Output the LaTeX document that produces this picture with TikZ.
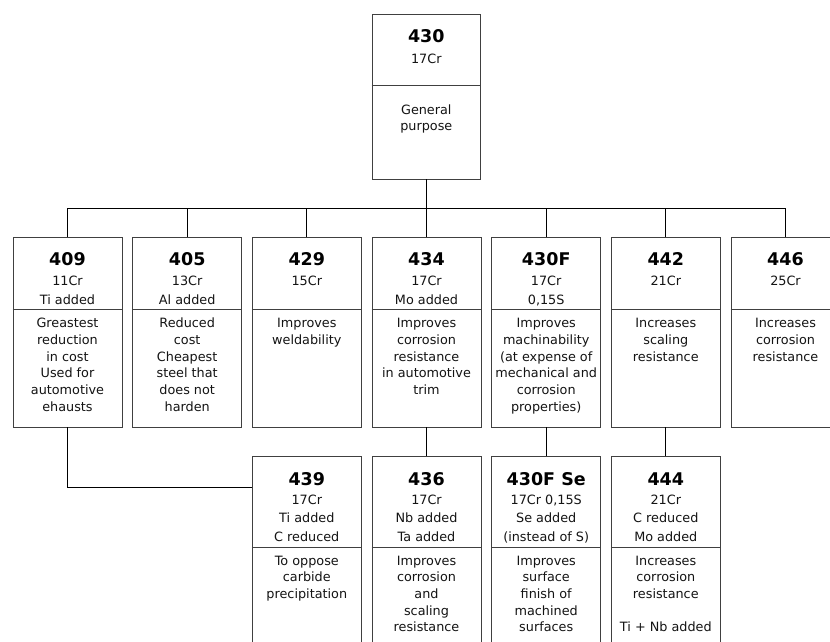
\documentclass[tikz,border=0pt]{standalone}
\usepackage{fontspec}
\setmainfont{DejaVu Sans}
\newcommand\tlines[5]{%
  \foreach \ln [count=\i] in {#5} {\node[txt] (#1-\i) at ({#2},{#3+(\i-1)*#4}) {\ln};}}
\begin{document}
\begin{tikzpicture}[x=1pt,y=-1pt,
  boxst/.style={draw=black!75, line width=0.9pt, minimum width=109pt, inner sep=0pt, fill=white},
  rowone/.style={boxst, minimum height=190pt},
  rowtwo/.style={boxst, minimum height=214pt},
  divline/.style={draw=black!75, line width=0.9pt},
  conn/.style={draw=black, line width=0.9pt},
  ttl/.style={font=\fontsize{17.5}{20}\selectfont\bfseries, anchor=base, inner sep=0pt},
  txt/.style={font=\fontsize{12.8}{15}\selectfont, anchor=base, inner sep=0pt, text=black!92}]
\useasboundingbox (0,0) rectangle (830,641);
\clip (0,0) rectangle (830,641);

% ---------- boxes ----------
\node[boxst, minimum width=108.5pt, minimum height=165pt] (b430) at (426.3,96.5) {};
\node[rowone] (b409) at (67.5,332) {};
\node[rowone] (b405) at (187.2,332) {};
\node[rowone] (b429) at (306.8,332) {};
\node[rowone] (b434) at (426.5,332) {};
\node[rowone] (b430F) at (546.2,332) {};
\node[rowone] (b442) at (665.8,332) {};
\node[rowone] (b446) at (785.5,332) {};
\node[rowtwo] (b439) at (306.8,563) {};
\node[rowtwo] (b436) at (426.5,563) {};
\node[rowtwo] (b430FSe) at (546.2,563) {};
\node[rowtwo] (b444) at (665.8,563) {};

% ---------- dividers ----------
\draw[divline] (b430.west |- 0,85) -- (b430.east |- 0,85);
\foreach \b in {b409,b405,b429,b434,b430F,b442,b446}
  \draw[divline] (\b.west |- 0,309) -- (\b.east |- 0,309);
\foreach \b in {b439,b436,b430FSe,b444}
  \draw[divline] (\b.west |- 0,547) -- (\b.east |- 0,547);

% ---------- connectors ----------
\coordinate (bus) at (426.3,208);
\coordinate (k439) at (253,487);
\draw[conn] (b430.south) -- (b430.south |- bus);
\draw[conn] (b409.north |- bus) -- (b446.north |- bus);
\foreach \b in {b409,b405,b429,b434,b430F,b442,b446}
  \draw[conn] (\b.north |- bus) -- (\b.north);
\draw[conn] (b434.south) -- (b436.north);
\draw[conn] (b430F.south) -- (b430FSe.north);
\draw[conn] (b442.south) -- (b444.north);
\draw[conn] (b409.south) |- (b439.west |- k439);

% ---------- texts ----------
\node[ttl] (t430) at (426.3,42.3) {430};
\tlines{s430}{426.3}{63.3}{18.6}{17Cr}
\tlines{d430}{426.3}{114}{16.7}{General, purpose}

\node[ttl] (t409) at (67.5,265.7) {409};
\tlines{s409}{67.5}{285.7}{18.6}{11Cr, Ti added}
\tlines{d409}{67.5}{327.7}{16.7}{Greastest, reduction, in cost, Used for, automotive, ehausts}

\node[ttl] (t405) at (187.2,265.7) {405};
\tlines{s405}{187.2}{285.7}{18.6}{13Cr, Al added}
\tlines{d405}{187.2}{327.7}{16.7}{Reduced, cost, Cheapest, steel that, does not, harden}

\node[ttl] (t429) at (306.8,265.7) {429};
\tlines{s429}{306.8}{285.7}{18.6}{15Cr}
\tlines{d429}{306.8}{327.7}{16.7}{Improves, weldability}

\node[ttl] (t434) at (426.5,265.7) {434};
\tlines{s434}{426.5}{285.7}{18.6}{17Cr, Mo added}
\tlines{d434}{426.5}{327.7}{16.7}{Improves, corrosion, resistance, in automotive, trim}

\node[ttl] (t430F) at (546.2,265.7) {430F};
\tlines{s430F}{546.2}{285.7}{18.6}{17Cr, {0,15S}}
\tlines{d430F}{546.2}{327.7}{16.7}{Improves, machinability, {(at expense of}, mechanical and, corrosion, {properties)}}

\node[ttl] (t442) at (665.8,265.7) {442};
\tlines{s442}{665.8}{285.7}{18.6}{21Cr}
\tlines{d442}{665.8}{327.7}{16.7}{Increases, scaling, resistance}

\node[ttl] (t446) at (785.5,265.7) {446};
\tlines{s446}{785.5}{285.7}{18.6}{25Cr}
\tlines{d446}{785.5}{327.7}{16.7}{Increases, corrosion, resistance}

\node[ttl] (t439) at (306.8,485) {439};
\tlines{s439}{306.8}{504}{18.8}{17Cr, Ti added, C reduced}
\tlines{d439}{306.8}{565}{16.7}{To oppose, carbide, precipitation}

\node[ttl] (t436) at (426.5,485) {436};
\tlines{s436}{426.5}{504}{18.8}{17Cr, Nb added, Ta added}
\tlines{d436}{426.5}{565}{16.7}{Improves, corrosion, and, scaling, resistance}

\node[ttl] (t430FSe) at (546.2,485) {430F Se};
\tlines{s430FSe}{546.2}{504}{18.8}{{17Cr 0,15S}, Se added, {(instead of S)}}
\tlines{d430FSe}{546.2}{565}{16.7}{Improves, surface, finish of, machined, surfaces}

\node[ttl] (t444) at (665.8,485) {444};
\tlines{s444}{665.8}{504}{18.8}{21Cr, C reduced, Mo added}
\tlines{d444}{665.8}{565}{16.7}{Increases, corrosion, resistance, {}, Ti + Nb added}
\end{tikzpicture}
\end{document}
